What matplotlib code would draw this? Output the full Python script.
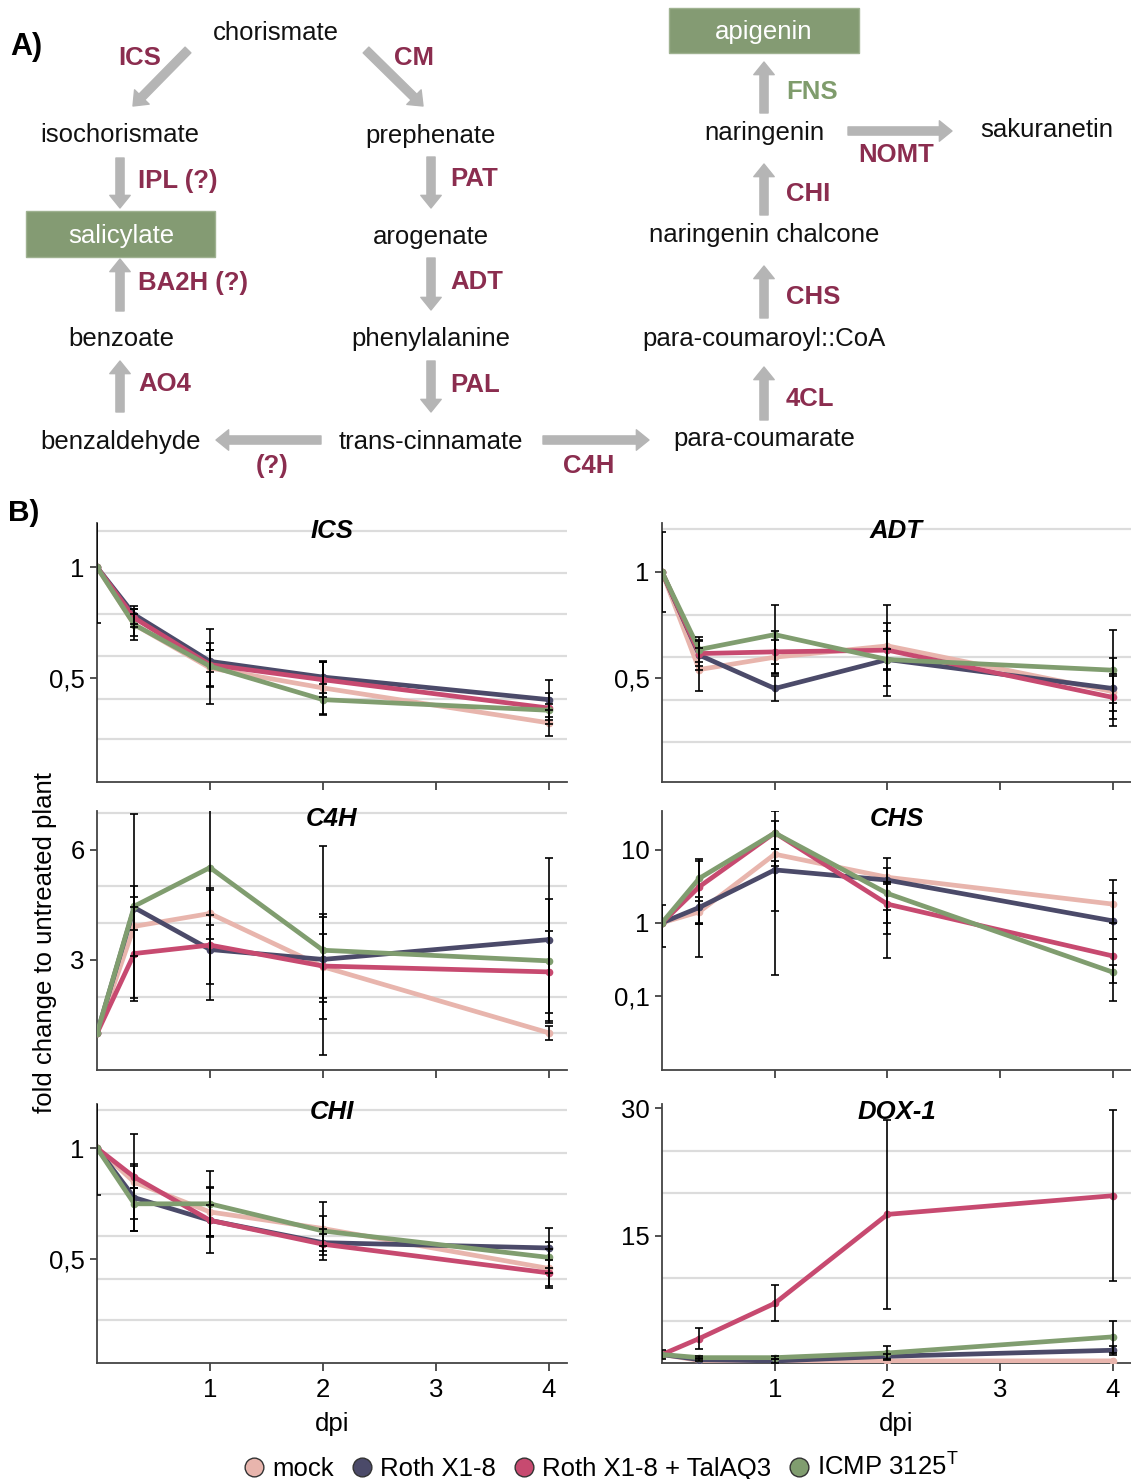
import numpy as np
import matplotlib
matplotlib.use('Agg')
import matplotlib.pyplot as plt
from matplotlib.patches import Rectangle
from matplotlib.lines import Line2D
from matplotlib.ticker import FixedLocator, NullFormatter

plt.rcParams['font.family'] = ['Liberation Sans', 'DejaVu Sans']
plt.rcParams['mathtext.fontset'] = 'custom'
plt.rcParams['mathtext.rm'] = 'Liberation Sans'
plt.rcParams['mathtext.it'] = 'Liberation Sans:italic'

# ---------------- data ----------------
dpi_x = [0, 0.33, 1, 2, 4]
series_keys = ['mock', 'roth', 'rothtal', 'icmp']
series_labels = ['mock', 'Roth X1-8', 'Roth X1-8 + TalAQ3', 'ICMP 3125$^{\\mathrm{T}}$']
series_colors = ['#e8b5ad', '#4b4a69', '#c74a70', '#809d6f']

ics_mean = {'mock': [1, 0.741, 0.545, 0.455, 0.297],
            'roth': [1, 0.786, 0.575, 0.504, 0.402],
            'rothtal': [1, 0.771, 0.560, 0.492, 0.364],
            'icmp': [1, 0.741, 0.553, 0.402, 0.354]}
ics_err = {'mock': [0.25, 0.07, 0.08, 0.12, 0.06],
           'roth': [0, 0.04, 0.05, 0.07, 0.09],
           'rothtal': [0, 0.04, 0.10, 0.08, 0.07],
           'icmp': [0, 0.05, 0.17, 0.07, 0.03]}

adt_mean = {'mock': [1, 0.542, 0.600, 0.653, 0.438],
            'roth': [1, 0.610, 0.453, 0.589, 0.453],
            'rothtal': [1, 0.617, 0.625, 0.633, 0.411],
            'icmp': [1, 0.636, 0.706, 0.589, 0.539]}
adt_err = {'mock': [0, 0.10, 0.08, 0.19, 0.16],
           'roth': [0.19, 0.07, 0.06, 0.17, 0.07],
           'rothtal': [0, 0.06, 0.10, 0.09, 0.10],
           'icmp': [0, 0.06, 0.14, 0.05, 0.19]}

c4h_mean = {'mock': [1, 3.91, 4.26, 2.81, 1.01],
            'roth': [1, 4.42, 3.28, 3.01, 3.55],
            'rothtal': [1, 3.17, 3.40, 2.83, 2.67],
            'icmp': [1, 4.46, 5.51, 3.26, 2.97]}
c4h_err = {'mock': [0, 0.80, 0.70, 1.43, 0.20],
           'roth': [0, 0.60, 0.93, 1.16, 2.22],
           'rothtal': [0, 1.28, 1.50, 0.88, 1.12],
           'icmp': [0, 2.50, 1.57, 2.85, 1.69]}

chs_mean = {'mock': [1, 1.41, 8.7, 4.2, 1.80],
            'roth': [1, 1.62, 5.3, 3.84, 1.06],
            'rothtal': [1, 3.11, 17.1, 1.80, 0.35],
            'icmp': [1, 4.05, 17.0, 2.52, 0.21]}
chs_low = {'mock': [1, 1.00, 6.0, 0.70, 1.00],
           'roth': [0.46, 0.96, 1.44, 0.33, 0.59],
           'rothtal': [1, 0.96, 10.4, 1.00, 0.15],
           'icmp': [1, 0.34, 0.19, 1.50, 0.085]}
chs_high = {'mock': [1, 2.00, 10.4, 7.6, 3.84],
            'roth': [1.74, 2.27, 7.0, 5.55, 2.58],
            'rothtal': [1, 7.10, 24.6, 3.40, 0.59],
            'icmp': [1, 7.45, 34.0, 3.60, 0.26]}

chi_mean = {'mock': [1, 0.846, 0.711, 0.636, 0.455],
            'roth': [1, 0.776, 0.673, 0.572, 0.548],
            'rothtal': [1, 0.869, 0.673, 0.565, 0.435],
            'icmp': [1, 0.748, 0.748, 0.625, 0.505]}
chi_err = {'mock': [0.21, 0.22, 0.11, 0.12, 0.09],
           'roth': [0, 0.15, 0.07, 0.04, 0.09],
           'rothtal': [0, 0.05, 0.15, 0.07, 0.06],
           'icmp': [0, 0.07, 0.15, 0.07, 0.07]}

dox_mean = {'mock': [1, 0.30, 0.25, 0.25, 0.25],
            'roth': [1, 0.40, 0.24, 0.79, 1.50],
            'rothtal': [1, 2.88, 7.03, 17.5, 19.7],
            'icmp': [1, 0.63, 0.63, 1.18, 3.08]}
dox_err = {'mock': [0.5, 0, 0, 0, 0],
           'roth': [0, 0.2, 0.2, 0.3, 0.5],
           'rothtal': [0, 1.2, 2.1, 11.1, 10.1],
           'icmp': [0, 0.2, 0.2, 0.8, 1.9]}

# ---------------- figure ----------------
W, H = 1131, 1479
fig = plt.figure(figsize=(W / 100, H / 100), dpi=100)
FS = 18.5
MAROON = '#8b2d4f'
GREENTXT = '#7f9c6c'
ARROW = '#b5b5b5'
BOXG = '#849b73'
DY = 2  # small vertical text offset in diagram pixels

# ---- panel A: pathway diagram ----
ax0 = fig.add_axes([0, 1 - 490 / H, 1, 490 / H])
ax0.set_xlim(0, W)
ax0.set_ylim(490, 0)
ax0.axis('off')


def arrow(x0, y0, x1, y1):
    ax0.annotate('', xy=(x1, y1), xytext=(x0, y0),
                 arrowprops=dict(arrowstyle='simple,head_length=0.65,head_width=1.05,tail_width=0.42',
                                 color=ARROW, mutation_scale=14, shrinkA=0, shrinkB=0))


def metab(x, y, s, color='#111111'):
    ax0.text(x, y + DY, s, ha='center', va='center', fontsize=FS, color=color)


def enz(x, y, s, color=MAROON, ha='left'):
    ax0.text(x, y + DY, s, ha=ha, va='center', fontsize=FS, color=color, fontweight='bold')


ax0.text(10, 47, 'A)', ha='left', va='center', fontsize=FS + 3.5, fontweight='bold')

metab(276, 31, 'chorismate')
enz(140, 56, 'ICS', ha='center')
arrow(188, 50, 133, 106)
enz(414, 56, 'CM', ha='center')
arrow(366, 50, 423, 106)

metab(120, 133, 'isochorismate')
metab(431, 134, 'prephenate')
arrow(120, 158, 120, 208)
enz(138, 179, 'IPL (?)')
arrow(431, 157, 431, 208)
enz(450, 177, 'PAT')

ax0.add_patch(Rectangle((26, 211), 189, 46, facecolor=BOXG, edgecolor='#9fb291', lw=1))
metab(121, 234, 'salicylate', color='white')
metab(431, 235, 'arogenate')

arrow(120, 311, 120, 259)
enz(138, 281, 'BA2H (?)')
arrow(431, 258, 431, 310)
enz(450, 280, 'ADT')

metab(121, 337, 'benzoate')
metab(431, 337, 'phenylalanine')
arrow(120, 412, 120, 361)
enz(138, 382, 'AO4')
arrow(431, 361, 431, 412)
enz(450, 383, 'PAL')

metab(121, 440, 'benzaldehyde')
metab(431, 440, 'trans-cinnamate')
arrow(321, 440, 216, 440)
enz(272, 464, '(?)', ha='center')
arrow(543, 440, 649, 440)
enz(589, 464, 'C4H', ha='center')

metab(764, 437, 'para-coumarate')
arrow(764, 420, 764, 367)
enz(786, 397, '4CL')
metab(764, 337, 'para-coumaroyl::CoA')
arrow(764, 318, 764, 266)
enz(786, 295, 'CHS')
metab(764, 233, 'naringenin chalcone')
arrow(764, 215, 764, 164)
enz(786, 192, 'CHI')
metab(764, 131, 'naringenin')
arrow(764, 113, 764, 62)
enz(786, 90, 'FNS', color=GREENTXT)
ax0.add_patch(Rectangle((669, 8), 190, 45, facecolor=BOXG, edgecolor='#9fb291', lw=1))
metab(764, 30, 'apigenin', color='white')
arrow(848, 131, 952, 131)
enz(896, 153, 'NOMT', ha='center')
metab(1047, 128, 'sakuranetin')

# ---- panel B: line charts ----
fig.text(8 / W, 1 - 513 / H, 'B)', ha='left', va='center', fontsize=FS + 3, fontweight='bold')


def add_ax(x0, x1, y0, y1):
    return fig.add_axes([x0 / W, 1 - y1 / H, (x1 - x0) / W, (y1 - y0) / H])


rows = [(523, 782), (811, 1070), (1104, 1363)]
cols = [(97, 567), (662, 1131)]

panels = [
    ('ICS', ics_mean, ics_err, None, (0.03, 1.20), [0.5, 1], ['0,5', '1'],
     [0.226, 0.407, 0.597, 0.787, 0.972, 1.162], False),
    ('ADT', adt_mean, adt_err, None, (0.014, 1.23), [0.5, 1], ['0,5', '1'],
     [0.2, 0.4, 0.6, 0.8, 1.0, 1.2], False),
    ('C4H', c4h_mean, c4h_err, None, (0, 7.05), [3, 6], ['3', '6'],
     [1, 2, 3, 4, 5, 6, 7], False),
    ('CHS', chs_mean, (chs_low, chs_high), 'log', (0.0096, 34), [0.1, 1, 10], ['0,1', '1', '10'],
     [0.1, 1, 10], False),
    ('CHI', chi_mean, chi_err, None, (0.027, 1.20), [0.5, 1], ['0,5', '1'],
     [0.222, 0.407, 0.602, 0.792, 0.979, 1.172], True),
    ('DOX-1', dox_mean, dox_err, None, (0, 30.5), [15, 30], ['15', '30'],
     [5, 10, 15, 20, 25, 30], True),
]

for i, (name, mean, err, scale, ylim, yt, ytl, grid, bottom) in enumerate(panels):
    r, c = divmod(i, 2)
    ax = add_ax(cols[c][0], cols[c][1], rows[r][0], rows[r][1])
    if scale == 'log':
        ax.set_yscale('log')
    ax.set_xlim(0, 4.16)
    ax.set_ylim(*ylim)
    ax.yaxis.set_minor_locator(FixedLocator(grid))
    ax.yaxis.set_minor_formatter(NullFormatter())
    ax.grid(which='minor', axis='y', color='#dcdcdc', lw=1.6, zorder=0)
    ax.grid(which='major', visible=False)
    ax.tick_params(axis='y', which='minor', length=0)
    ax.set_yticks(yt)
    ax.set_yticklabels(ytl)
    ax.set_xticks([1, 2, 3, 4])
    ax.tick_params(axis='both', which='major', length=5, width=1.2, color='#333333',
                   labelsize=FS, pad=4)
    ax.tick_params(axis='x', length=6, labelbottom=bottom, pad=5)
    for sp in ['top', 'right']:
        ax.spines[sp].set_visible(False)
    for sp in ['left', 'bottom']:
        ax.spines[sp].set_color('#444444')
        ax.spines[sp].set_linewidth(1.3)
    ax.set_axisbelow(True)
    for k, col in zip(series_keys, series_colors):
        ax.plot(dpi_x, mean[k], color=col, lw=3.4, marker='o', ms=4.5,
                solid_joinstyle='round', solid_capstyle='round', zorder=3)
    for k in series_keys:
        m = np.array(mean[k], dtype=float)
        x = np.array(dpi_x, dtype=float)
        if isinstance(err, tuple):
            lo = m - np.array(err[0][k], dtype=float)
            hi = np.array(err[1][k], dtype=float) - m
        else:
            lo = np.array(err[k], dtype=float)
            hi = lo.copy()
        sel = (lo > 0) | (hi > 0)
        if sel.any():
            ax.errorbar(x[sel], m[sel], yerr=[lo[sel], hi[sel]], fmt='none', ecolor='black',
                        elinewidth=1.2, capsize=3, capthick=1.2, zorder=4)
    ax.text(0.5, 0.969, name, transform=ax.transAxes, ha='center', va='center',
            fontsize=FS, fontweight='bold', style='italic', zorder=5)
    if bottom:
        ax.set_xlabel('dpi', fontsize=FS, labelpad=7)

fig.text(45 / W, 1 - 943 / H, 'fold change to untreated plant', rotation=90,
         ha='center', va='center', fontsize=FS)

handles = [Line2D([], [], ls='none', marker='o', ms=13.5, markerfacecolor=col,
                  markeredgecolor='#333333', markeredgewidth=1.0) for col in series_colors]
fig.legend(handles, series_labels, loc='center', bbox_to_anchor=(600 / W, 1 - 1467 / H),
           ncol=4, frameon=False, fontsize=FS, handletextpad=0.2, columnspacing=0.6,
           handlelength=1.0, borderaxespad=0, borderpad=0)

fig.savefig('out.png', dpi=100)
